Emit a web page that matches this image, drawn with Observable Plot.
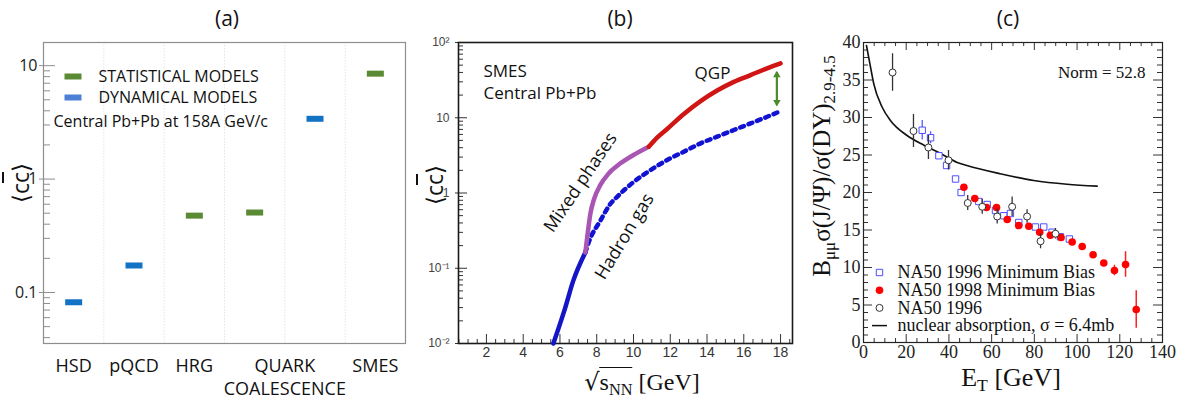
<!DOCTYPE html>
<html><head><meta charset="utf-8">
<script src="https://cdn.jsdelivr.net/npm/d3@7"></script>
<script src="https://cdn.jsdelivr.net/npm/@observablehq/plot@0.6"></script>
<style>
html,body{margin:0;padding:0;background:#fff;}
#wrap{position:relative;width:1182px;height:399px;overflow:hidden;background:#fff;}
.lab{position:absolute;white-space:nowrap;color:#111;line-height:1;}
.lab sub{font-size:0.68em;vertical-align:-0.3em;line-height:0;}
</style></head>
<body><div id="wrap"></div>
<script>
// ================= Panel (a) data =================
const aModels = ["HSD", "pQCD", "HRG", "QUARK COALESCENCE", "QUARK COALESCENCE", "SMES"];
const aValues = [0.082, 0.173, 0.476, 0.507, 3.4, 8.5];
const aKinds  = ["dyn", "dyn", "stat", "stat", "dyn", "stat"];
const aTickLabels = ["HSD", "pQCD", "HRG", "QUARK\nCOALESCENCE", "SMES"];
const aYTicks = [0.1, 1, 10];
const aLegendLabels = ["STATISTICAL MODELS", "DYNAMICAL MODELS"];
const aNote = "Central Pb+Pb at 158A GeV/c";

// ================= Panel (b) data =================
const bHadronLowX = [5.64, 6.25, 6.73, 7.38];
const bHadronLowY = [0.01, 0.028, 0.069, 0.162];
const bMixedX = [7.38, 7.5, 7.66, 7.84, 8.2, 8.66, 9.29, 10.0, 10.83];
const bMixedY = [0.162, 0.28, 0.54, 0.81, 1.28, 1.83, 2.48, 3.2, 4.12];
const bQGPX = [10.83, 11.3, 11.83, 12.74, 13.65, 14.55, 15.46, 16.37, 17.27, 18.0];
const bQGPY = [4.12, 5.5, 7.1, 11.2, 16.6, 23.0, 30, 36.9, 45.3, 52.7];
const bGasX = [7.38, 7.57, 8.2, 8.75, 9.11, 10.02, 10.93, 11.83, 12.74, 13.65, 14.55, 15.46, 16.37, 17.27, 17.91];
const bGasY = [0.162, 0.223, 0.43, 0.72, 0.89, 1.41, 2.02, 2.74, 3.54, 4.57, 5.6, 6.87, 8.41, 10.3, 12.0];
const bArrowX = 17.8;
const bArrowY = [14.7, 40.4];
const bXTicks = [2, 4, 6, 8, 10, 12, 14, 16, 18];
const bYTicks = [0.01, 0.1, 1, 10, 100];
const bNote = ["SMES", "Central Pb+Pb"];
const bCurveLabels = ["QGP", "Mixed phases", "Hadron gas"];

// ================= Panel (c) data =================
const cAbsET = [1.4, 3.3, 4.8, 8.7, 12.6, 20.4, 28.3, 36.1, 43.9, 48.4, 64, 79.7, 95.3, 109.4];
const cAbsY  = [39.6, 36.7, 34.5, 31.4, 29.6, 27.6, 26.3, 25.2, 24.0, 23.6, 22.5, 21.6, 21.1, 20.85];
const cOpenET  = [13.6, 23.4, 30.4, 39.8, 48.8, 55.6, 62.6, 69.6, 76.6, 82.9, 89.9];
const cOpenY   = [36.0, 28.2, 26.0, 24.3, 18.6, 18.1, 16.8, 18.1, 16.8, 13.5, 14.5];
const cOpenErr = [2.5, 2.2, 1.6, 1.3, 1.0, 1.0, 1.0, 1.3, 0.9, 1.0, 0.7];
const cMB96ET  = [27.5, 31.4, 35.3, 38.9, 43.1, 45.7, 54.0, 57.9, 61.8, 65.7, 68.8, 72.7, 80.5, 84.4, 88.3, 92.2, 96.4];
const cMB96Y   = [28.3, 27.3, 24.9, 23.6, 21.8, 20.0, 18.8, 18.4, 17.6, 16.9, 17.2, 16.0, 15.4, 15.4, 14.7, 14.1, 13.8];
const cMB96Err = [1.3, 0.8, 0, 0.5, 0, 0, 0, 0, 0, 0, 0, 0, 0, 0, 0, 0, 0];
const cMB98ET  = [47.0, 52.1, 57.6, 62.3, 67.3, 72.7, 77.4, 82.5, 87.5, 92.5, 97.7, 102.4, 107.5, 112.5, 117.5, 122.7, 127.7];
const cMB98Y   = [20.7, 19.2, 18.0, 18.0, 16.4, 15.6, 15.5, 14.7, 14.3, 14.0, 13.4, 12.8, 11.7, 10.6, 9.6, 10.4, 4.4];
const cMB98Err = [0, 0, 0, 0, 0, 0, 0, 0, 0, 0, 0, 0, 0, 0, 0.7, 1.7, 2.5];
const cXTicks = [0, 20, 40, 60, 80, 100, 120, 140];
const cYTicks = [0, 5, 10, 15, 20, 25, 30, 35, 40];
const cLegendLabels = ["NA50 1996 Minimum Bias", "NA50 1998 Minimum Bias", "NA50 1996", "nuclear absorption, \u03c3 = 6.4mb"];
const cNorm = "Norm = 52.8";

// ================= Titles / axis labels =================
const titles = ["(a)", "(b)", "(c)"];

// ================= Styles =================
const GREEN = "#5a8a34", BLUE = "#1273c4", BLUE_LEG = "#4d80d4";
const SANS = "Open Sans, Noto Sans, sans-serif";
const ARIAL = "Liberation Sans, Arial, sans-serif";
const SERIF = "Liberation Serif, Times New Roman, serif";

const wrap = document.getElementById("wrap");
function place(svg, left) {
  svg.style.position = "absolute";
  svg.style.left = left + "px";
  svg.style.top = "0px";
  svg.style.background = "transparent";
  svg.style.overflow = "visible";
  svg.style.maxWidth = "none";
  wrap.appendChild(svg);
}
function label(html, x, y, css, rotate) {
  const d = document.createElement("div");
  d.className = "lab";
  d.innerHTML = html;
  d.style.cssText += css;
  d.style.left = x + "px";
  d.style.top = y + "px";
  d.style.transform = "translate(-50%,-50%)" + (rotate ? " rotate(" + rotate + "deg)" : "");
  wrap.appendChild(d);
}
function minorLog(domain) {
  const out = [];
  for (let e = -3; e <= 3; e++) for (let k = 2; k <= 9; k++) {
    const v = k * Math.pow(10, e);
    if (v > domain[0] && v < domain[1]) out.push(v);
  }
  return out;
}
const zip = (X, Y, extra) => X.map((x, i) => Object.assign({x, y: Y[i]}, extra ? extra(i) : {}));

// ================= Panel (a) =================
{
  const W = 420, ML = 43, MR = 15, MT = 42, MB = 56;
  const FW = W - ML - MR;
  const yDom = [0.0355, 16];
  const rows = aModels.map((m, i) => ({slot: i + 0.5, value: aValues[i], kind: aKinds[i]}));
  const groups = [...new Set(aModels)];
  const tickPos = groups.map(g => d3.mean(rows.filter((r, i) => aModels[i] === g), r => r.slot));
  const tickMap = new Map(tickPos.map((p, i) => [p, aTickLabels[i]]));
  const bar = {draw(ctx) { ctx.rect(-8.5, -3, 17, 6); }};
  const svg = Plot.plot({
    width: W, height: 399, marginLeft: ML, marginRight: MR, marginTop: MT, marginBottom: MB,
    x: {domain: [0, aModels.length]},
    y: {type: "log", domain: yDom},
    marks: [
      Plot.ruleX(d3.range(1, aModels.length), {stroke: "#e4e4e4", strokeDasharray: "1.5,1.5"}),
      Plot.frame({stroke: "#8e8e8e", strokeWidth: 1.2}),
      Plot.ruleY(minorLog(yDom), {insetRight: FW - 7, stroke: "#8e8e8e"}),
      Plot.ruleY(aYTicks, {insetLeft: -4, insetRight: FW - 12, stroke: "#8e8e8e"}),
      Plot.axisY({ticks: aYTicks, tickFormat: d => d < 1 ? d.toFixed(1) : String(d), tickSize: 0, tickPadding: 6,
        fontSize: 16, fontFamily: SANS, fill: "#222", label: null}),
      Plot.axisX({ticks: tickPos, tickFormat: d => tickMap.get(d), tickSize: 0, tickPadding: 12,
        fontSize: 18, lineHeight: 1.28, fontFamily: SANS, fill: "#111", label: null}),
      Plot.dot(rows.filter(r => r.kind === "stat"), {x: "slot", y: "value", symbol: bar, fill: GREEN, stroke: null}),
      Plot.dot(rows.filter(r => r.kind === "dyn"), {x: "slot", y: "value", symbol: bar, fill: BLUE, stroke: null}),
      ...aLegendLabels.map((t, i) => Plot.dot([t], {frameAnchor: "top-left", dx: 29.5, dy: 34 + 21 * i, symbol: bar,
        fill: i === 0 ? GREEN : BLUE_LEG, stroke: null})),
      ...aLegendLabels.map((t, i) => Plot.text([t], {frameAnchor: "top-left", dx: 55, dy: 34 + 21 * i, text: d => d,
        textAnchor: "start", lineAnchor: "middle", fontSize: 16, fontFamily: SANS, fill: "#111"})),
      Plot.text([aNote], {frameAnchor: "top-left", dx: 10, dy: 79, text: d => d, textAnchor: "start",
        lineAnchor: "middle", fontSize: 16, fontFamily: SANS, fill: "#111"})
    ]
  });
  place(svg, 0);
}

// ================= Panel (b) =================
{
  const W = 390, ML = 38, MR = 18, MT = 42, MB = 56;
  const FW = W - ML - MR, FH = 399 - MT - MB;
  const yDom = [0.01, 100];
  const xDom = [0.48, 18.65];
  const supMap = {"-": "\u207b", "0": "\u2070", "1": "\u00b9", "2": "\u00b2", "3": "\u00b3"};
  const fmt = d => {
    const e = Math.round(Math.log10(d));
    if (e === 0) return "1";
    if (e === 1) return "10";
    return "10" + String(e).split("").map(c => supMap[c]).join("");
  };
  const xMinor = d3.range(0.5, 18.6, 0.5).filter(v => !bXTicks.includes(v));
  const ARROW = "#4f8a2f";
  const svg = Plot.plot({
    width: W, height: 399, marginLeft: ML, marginRight: MR, marginTop: MT, marginBottom: MB,
    x: {domain: xDom},
    y: {type: "log", domain: yDom},
    marks: [
      Plot.ruleY(minorLog(yDom), {insetRight: FW - 5, stroke: "#333"}),
      Plot.ruleY(bYTicks, {insetLeft: -3, insetRight: FW - 9, stroke: "#333"}),
      Plot.ruleX(xMinor, {insetTop: FH - 4, stroke: "#333"}),
      Plot.ruleX(bXTicks, {insetTop: FH - 9, stroke: "#333"}),
      Plot.frame({stroke: "#1a1a1a", strokeWidth: 1.6}),
      Plot.axisY({ticks: bYTicks, tickFormat: fmt, tickSize: 0, tickPadding: 9, fontSize: 12,
        fontFamily: ARIAL, fill: "#444", label: null}),
      Plot.axisX({ticks: bXTicks, tickSize: 0, tickPadding: 4, fontSize: 14, fontFamily: ARIAL,
        fill: "#333", label: null}),
      Plot.line(zip(bGasX, bGasY), {x: "x", y: "y", stroke: "#1212d2", strokeWidth: 4.5,
        strokeDasharray: "4,5", curve: "monotone-x"}),
      Plot.line(zip(bHadronLowX, bHadronLowY), {x: "x", y: "y", stroke: "#1515c8", strokeWidth: 4.5, curve: "monotone-x"}),
      Plot.line(zip(bMixedX, bMixedY), {x: "x", y: "y", stroke: "#a855b4", strokeWidth: 4.5, curve: "monotone-x"}),
      Plot.line(zip(bQGPX, bQGPY), {x: "x", y: "y", stroke: "#d01515", strokeWidth: 4.5, curve: "monotone-x"}),
      Plot.link([bArrowY], {x1: () => bArrowX, x2: () => bArrowX, y1: d => d[0], y2: d => d[1],
        stroke: ARROW, strokeWidth: 2.2}),
      Plot.dot([bArrowY[1]], {x: () => bArrowX, y: d => d, symbol: "triangle2", r: 3.6, fill: ARROW, stroke: null, dy: 3}),
      Plot.dot([bArrowY[0]], {x: () => bArrowX, y: d => d, symbol: "triangle2", r: 3.6, fill: ARROW, stroke: null, dy: -3, rotate: 180}),
      ...bNote.map((t, i) => Plot.text([t], {frameAnchor: "top-left", dx: 25, dy: 29 + 22 * i, text: d => d,
        textAnchor: "start", lineAnchor: "middle", fontSize: 17, fontFamily: SANS, fill: "#111"})),
      Plot.text([bCurveLabels[0]], {frameAnchor: "top-left", dx: 254, dy: 31, text: d => d,
        textAnchor: "middle", lineAnchor: "middle", fontSize: 17, fontFamily: SANS, fill: "#111"}),
      Plot.text([bCurveLabels[1]], {frameAnchor: "top-left", dx: 122, dy: 140, text: d => d, rotate: -56,
        textAnchor: "middle", lineAnchor: "middle", fontSize: 18, fontFamily: SANS, fill: "#111"}),
      Plot.text([bCurveLabels[2]], {frameAnchor: "top-left", dx: 166, dy: 194, text: d => d, rotate: -59,
        textAnchor: "middle", lineAnchor: "middle", fontSize: 18, fontFamily: SANS, fill: "#111"})
    ]
  });
  place(svg, 420);
}

// ================= Panel (c) =================
{
  const W = 372, ML = 53, MR = 20, MT = 42, MB = 57;
  const FW = W - ML - MR, FH = 399 - MT - MB;
  const xMinor = d3.range(0, 141, 5).filter(v => !cXTicks.includes(v));
  const yMinor = d3.range(0, 41, 1).filter(v => !cYTicks.includes(v));
  const absorption = zip(cAbsET, cAbsY);
  const open = zip(cOpenET, cOpenY, i => ({e: cOpenErr[i]}));
  const mb96 = zip(cMB96ET, cMB96Y, i => ({e: cMB96Err[i]}));
  const mb98 = zip(cMB98ET, cMB98Y, i => ({e: cMB98Err[i]}));
  const hline = {draw(ctx) { ctx.moveTo(-7.5, 0); ctx.lineTo(7.5, 0); }};
  const legendStyles = [
    {symbol: "square", r: 3.6, stroke: "#4d4dff", fill: "none", strokeWidth: 1},
    {symbol: "circle", r: 3.8, stroke: null, fill: "#ff0000"},
    {symbol: "circle", r: 3.5, stroke: "#333", fill: "white", strokeWidth: 1},
    {symbol: hline, r: 3, stroke: "#111", fill: "none", strokeWidth: 1.5}
  ];
  const svg = Plot.plot({
    width: W, height: 399, marginLeft: ML, marginRight: MR, marginTop: MT, marginBottom: MB,
    x: {domain: [0, 140]},
    y: {domain: [0, 40]},
    marks: [
      Plot.ruleX(xMinor, {insetTop: FH - 4, stroke: "#333"}),
      Plot.ruleX(cXTicks, {insetTop: FH - 8, stroke: "#333"}),
      Plot.ruleX(xMinor, {insetBottom: FH - 4, stroke: "#333"}),
      Plot.ruleX(cXTicks, {insetBottom: FH - 8, stroke: "#333"}),
      Plot.ruleY(yMinor, {insetRight: FW - 5, stroke: "#333"}),
      Plot.ruleY(cYTicks, {insetRight: FW - 9, stroke: "#333"}),
      Plot.ruleY(yMinor, {insetLeft: FW - 5, stroke: "#333"}),
      Plot.ruleY(cYTicks, {insetLeft: FW - 9, stroke: "#333"}),
      Plot.frame({stroke: "#222", strokeWidth: 1.2}),
      Plot.axisY({ticks: cYTicks, tickSize: 0, tickPadding: 3, fontSize: 18, fontFamily: SERIF,
        fill: "#222", label: null}),
      Plot.axisX({ticks: cXTicks, tickSize: 0, tickPadding: 3, fontSize: 18, fontFamily: SERIF,
        fill: "#222", label: null}),
      Plot.line(absorption, {x: "x", y: "y", stroke: "#111", strokeWidth: 1.6, curve: "monotone-x"}),
      Plot.ruleX(mb96.filter(d => d.e > 0), {x: "x", y1: d => d.y - d.e, y2: d => d.y + d.e, stroke: "#5a5aff", strokeWidth: 1.3}),
      Plot.dot(mb96, {x: "x", y: "y", symbol: "square", r: 3.6, stroke: "#4d4dff", fill: "white", strokeWidth: 1}),
      Plot.ruleX(mb98.filter(d => d.e > 0), {x: "x", y1: d => d.y - d.e, y2: d => d.y + d.e, stroke: "#ff2020", strokeWidth: 1.5}),
      Plot.dot(mb98, {x: "x", y: "y", r: 3.8, fill: "#ff0000", stroke: null}),
      Plot.ruleX(open, {x: "x", y1: d => d.y - d.e, y2: d => d.y + d.e, stroke: "#333", strokeWidth: 1.3}),
      Plot.dot(open, {x: "x", y: "y", r: 3.5, stroke: "#333", fill: "white", strokeWidth: 1}),
      ...cLegendLabels.map((t, i) => Plot.dot([t], Object.assign({frameAnchor: "top-left", dx: 16, dy: 230 + 17.7 * i}, legendStyles[i]))),
      ...cLegendLabels.map((t, i) => Plot.text([t], {frameAnchor: "top-left", dx: 34, dy: 230 + 17.7 * i, text: d => d,
        textAnchor: "start", lineAnchor: "middle", fontSize: 18, fontFamily: SERIF, fill: "#111"})),
      Plot.text([cNorm], {frameAnchor: "top-right", dx: -17, dy: 30, text: d => d, textAnchor: "end",
        lineAnchor: "middle", fontSize: 17, fontFamily: SERIF, fill: "#111"})
    ]
  });
  place(svg, 810);
}

// ================= HTML labels =================
label(titles[0], 227, 18, "font:21px " + SANS + ";");
label(titles[1], 620, 18, "font:21px " + SANS + ";");
label(titles[2], 1008, 18, "font:21px " + SANS + ";");
const ccbar = "\u27e8c<span style=\"text-decoration:overline\">c</span>\u27e9";
label(ccbar, 20, 183, "font:23px " + SANS + ";", -90);
label(ccbar, 434, 185, "font:23px " + SANS + ";", -90);
label("<span style=\"font-family:DejaVu Serif\">\u221a</span><span style=\"border-top:1.5px solid #111;padding-top:1px\">s<sub>NN</sub></span> [GeV]",
  642, 382, "font:24px " + SERIF + ";");
label("E<sub>T</sub> [GeV]", 1011, 378, "font:26px " + SERIF + ";");
label("B<sub>\u03bc\u03bc</sub>\u03c3(J/\u03a8)/\u03c3(DY)<sub>2.9-4.5</sub>", 822, 166, "font:25px " + SERIF + ";", -90);
</script></body></html>
